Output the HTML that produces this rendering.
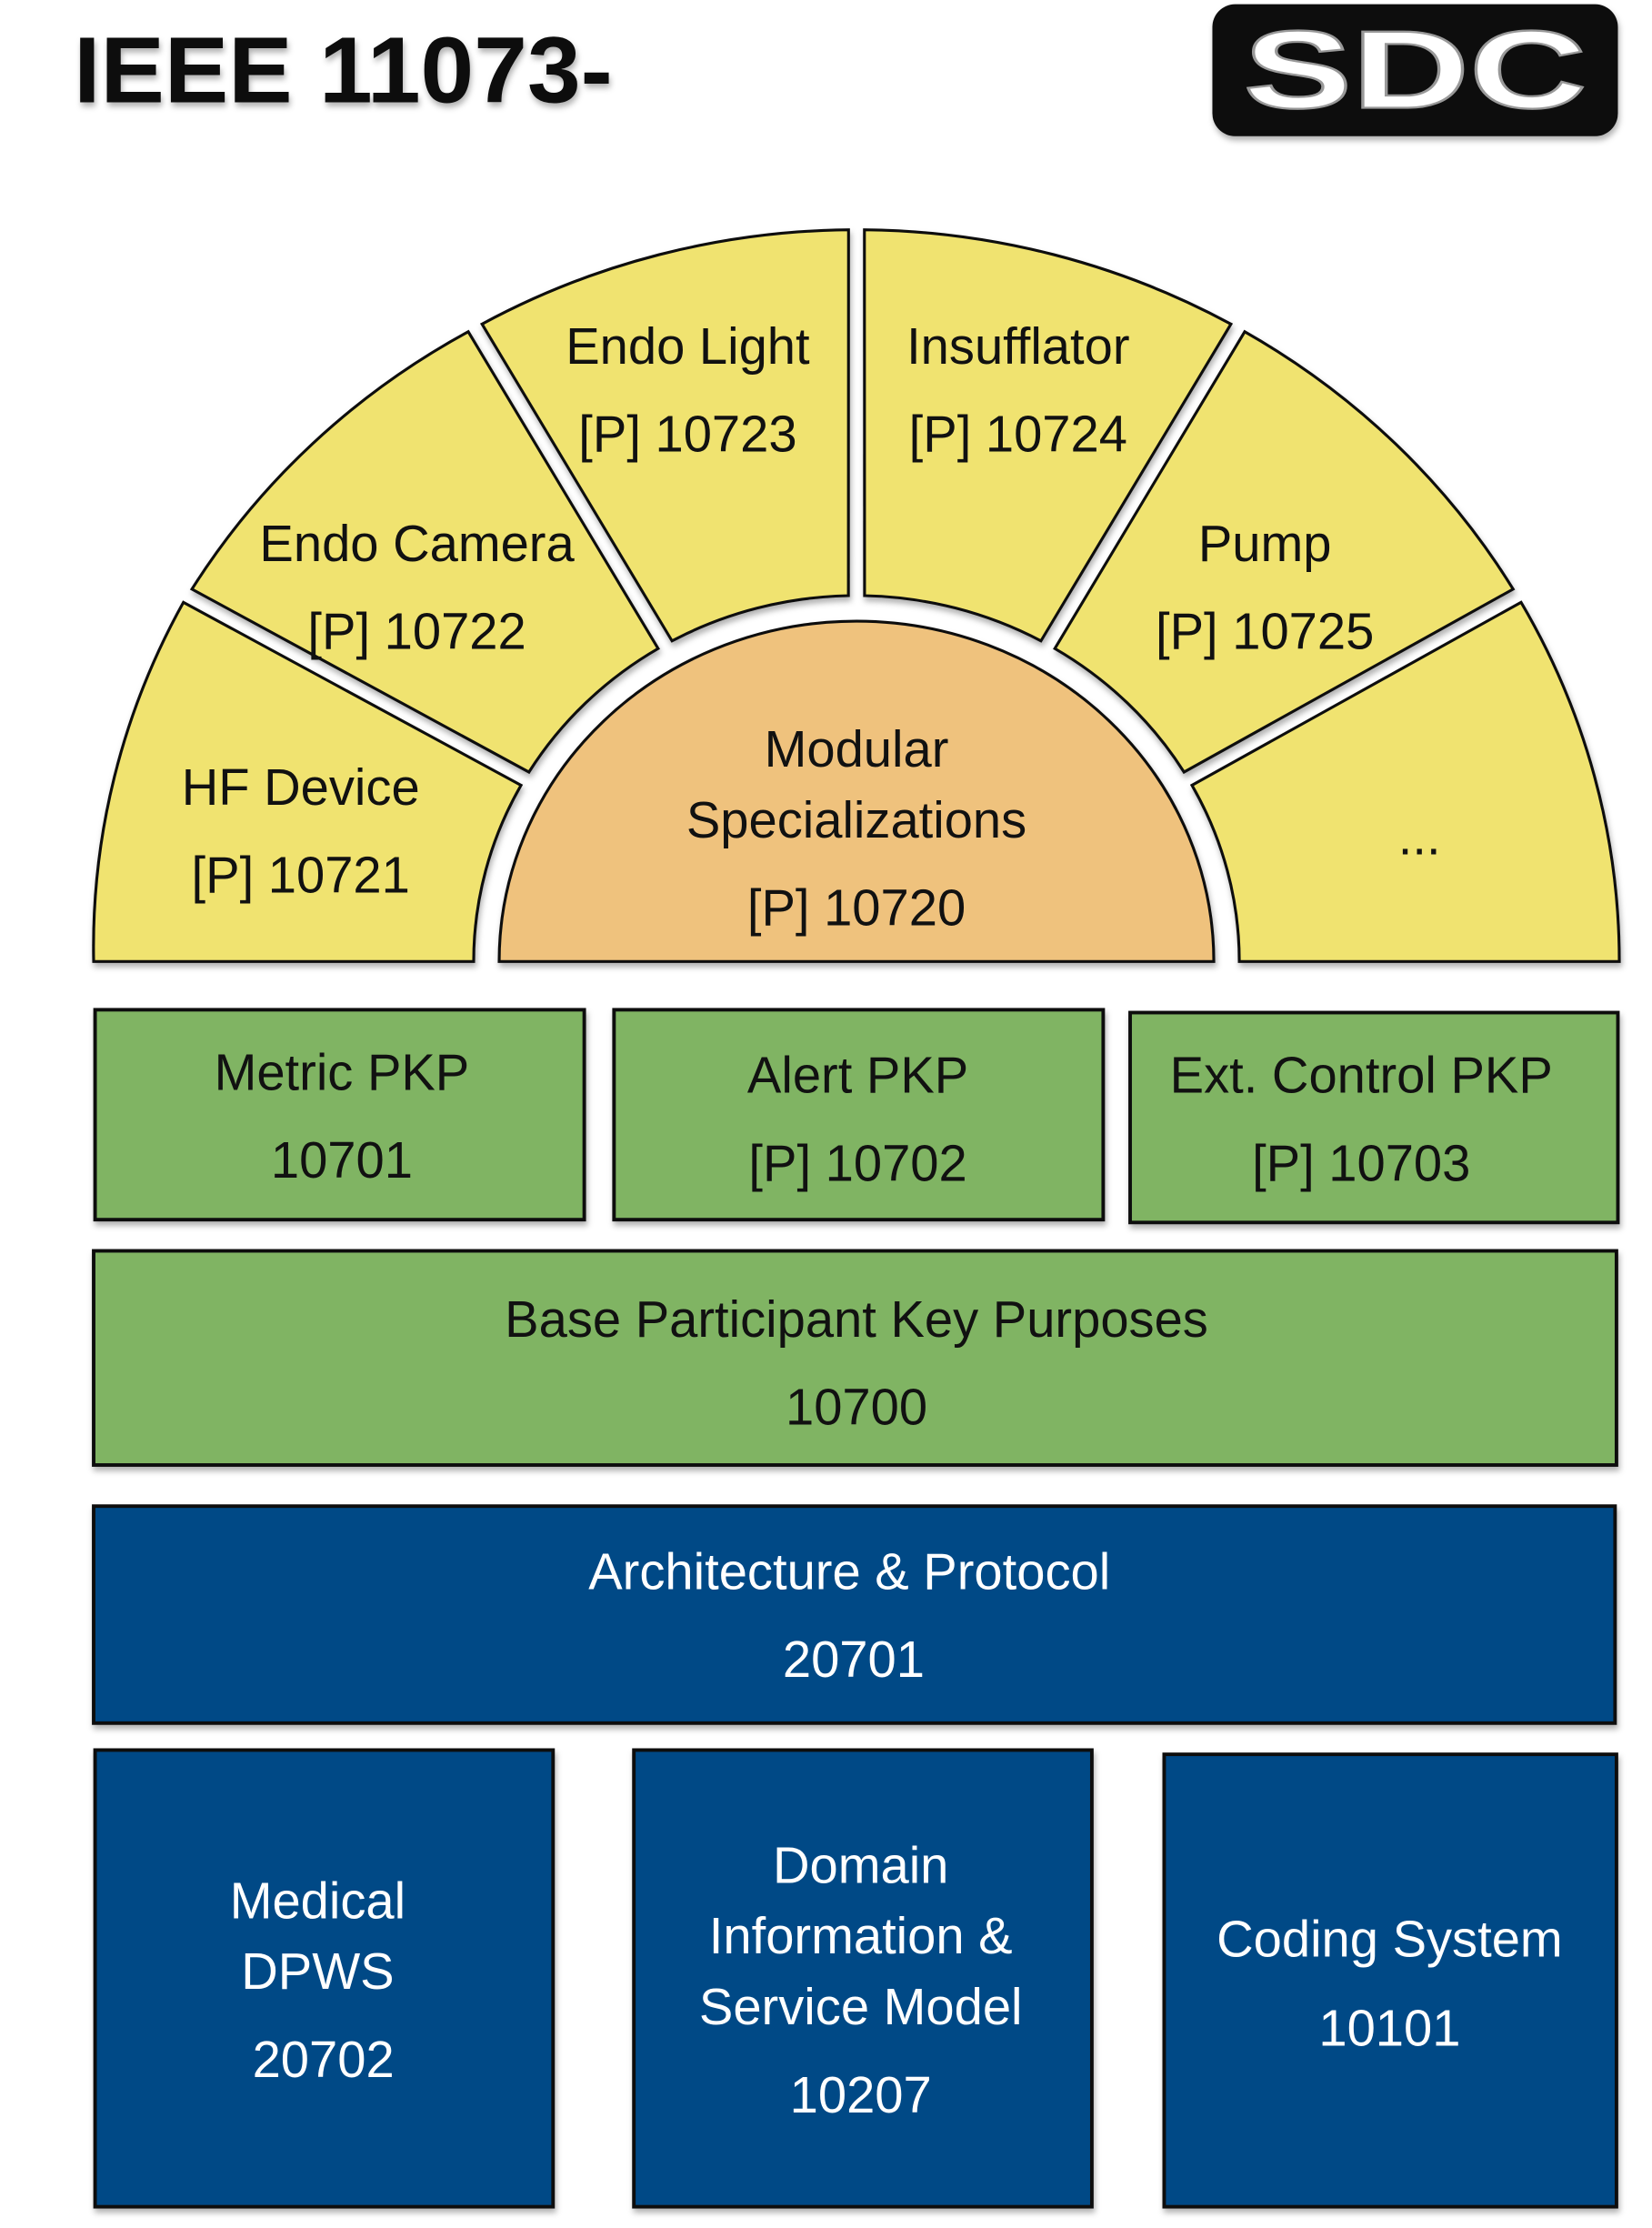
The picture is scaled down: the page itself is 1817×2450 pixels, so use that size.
<!DOCTYPE html>
<html><head><meta charset="utf-8"><style>html,body{margin:0;padding:0;background:#fff}svg{display:block}</style></head>
<body>
<svg width="1817" height="2450" viewBox="0 0 1165 1571" xmlns="http://www.w3.org/2000/svg">
<defs>
<filter id="sh" x="-5%" y="-5%" width="110%" height="115%"><feDropShadow dx="1" dy="3" stdDeviation="2" flood-color="#000" flood-opacity="0.3"/></filter>
</defs>
<g font-family="Liberation Sans, sans-serif">
<text x="52" y="72" font-size="66" font-weight="bold" textLength="380" lengthAdjust="spacingAndGlyphs" fill="#111" filter="url(#sh)">IEEE 11073-</text>
<rect x="855" y="3" width="286" height="93" rx="16" fill="#111" filter="url(#sh)"/>
<text x="998" y="76" font-size="78" font-weight="bold" text-anchor="middle" textLength="242" lengthAdjust="spacingAndGlyphs" fill="#fff" stroke="#999" stroke-width="1.5">SDC</text>

<g stroke="#111" stroke-width="2" fill="#f0e36f" filter="url(#sh)">
<path d="M1142 678 A538 516 0 0 0 1072.7 424.7 L840.6 553.7 A270 258 0 0 1 874 678 Z"/>
<path d="M1067.1 415.4 A538 516 0 0 0 877.8 233.9 L743.9 457.3 A270 258 0 0 1 835 544.4 Z"/>
<path d="M868.1 228.5 A538 516 0 0 0 609.6 162 L609.7 420 A270 258 0 0 1 734.1 451.9 Z"/>
<path d="M598.4 162 A538 516 0 0 0 339.9 228.5 L473.9 451.9 A270 258 0 0 1 598.3 420 Z"/>
<path d="M330.2 233.9 A538 516 0 0 0 135.3 415.4 L373 544.4 A270 258 0 0 1 464.1 457.3 Z"/>
<path d="M129.3 424.7 A538 516 0 0 0 66 678 L334 678 A270 258 0 0 1 367.4 553.7 Z"/>
<path d="M352 678 A252 240 0 0 1 856 678 Z" fill="#efc27d"/>
</g>
<g stroke="#111" stroke-width="2.5" filter="url(#sh)">
<rect x="67" y="712" width="345" height="148" fill="#80b464"/>
<rect x="433" y="712" width="345" height="148" fill="#80b464"/>
<rect x="797" y="714" width="344" height="148" fill="#80b464"/>
<rect x="66" y="882" width="1074" height="151" fill="#80b464"/>
<rect x="66" y="1062" width="1073" height="153" fill="#004a86"/>
<rect x="67" y="1234" width="323" height="322" fill="#004a86"/>
<rect x="447" y="1234" width="323" height="322" fill="#004a86"/>
<rect x="821" y="1237" width="319" height="319" fill="#004a86"/>
</g>
<g font-size="36" text-anchor="middle" dominant-baseline="central" fill="#111">
<text x="212" y="555">HF Device</text><text x="212" y="617">[P] 10721</text>
<text x="294" y="383">Endo Camera</text><text x="294" y="445">[P] 10722</text>
<text x="485" y="244">Endo Light</text><text x="485" y="306">[P] 10723</text>
<text x="718" y="244">Insufflator</text><text x="718" y="306">[P] 10724</text>
<text x="892" y="383">Pump</text><text x="892" y="445">[P] 10725</text>
<text x="1001" y="590">...</text>
<text x="604" y="528">Modular</text><text x="604" y="578">Specializations</text><text x="604" y="640">[P] 10720</text>
<text x="241" y="756">Metric PKP</text><text x="241" y="818">10701</text>
<text x="605" y="758">Alert PKP</text><text x="605" y="820">[P] 10702</text>
<text x="960" y="758">Ext. Control PKP</text><text x="960" y="820">[P] 10703</text>
<text x="604" y="930">Base Participant Key Purposes</text><text x="604" y="992">10700</text>
</g>
<g font-size="36" text-anchor="middle" dominant-baseline="central" fill="#fff">
<text x="599" y="1108">Architecture &amp; Protocol</text><text x="602" y="1170">20701</text>
<text x="224" y="1340">Medical</text><text x="224" y="1390">DPWS</text><text x="228" y="1452">20702</text>
<text x="607" y="1315">Domain</text><text x="607" y="1365">Information &amp;</text><text x="607" y="1415">Service Model</text><text x="607" y="1477">10207</text>
<text x="980" y="1367">Coding System</text><text x="980" y="1430">10101</text>
</g>
</g>
</svg>
</body></html>
